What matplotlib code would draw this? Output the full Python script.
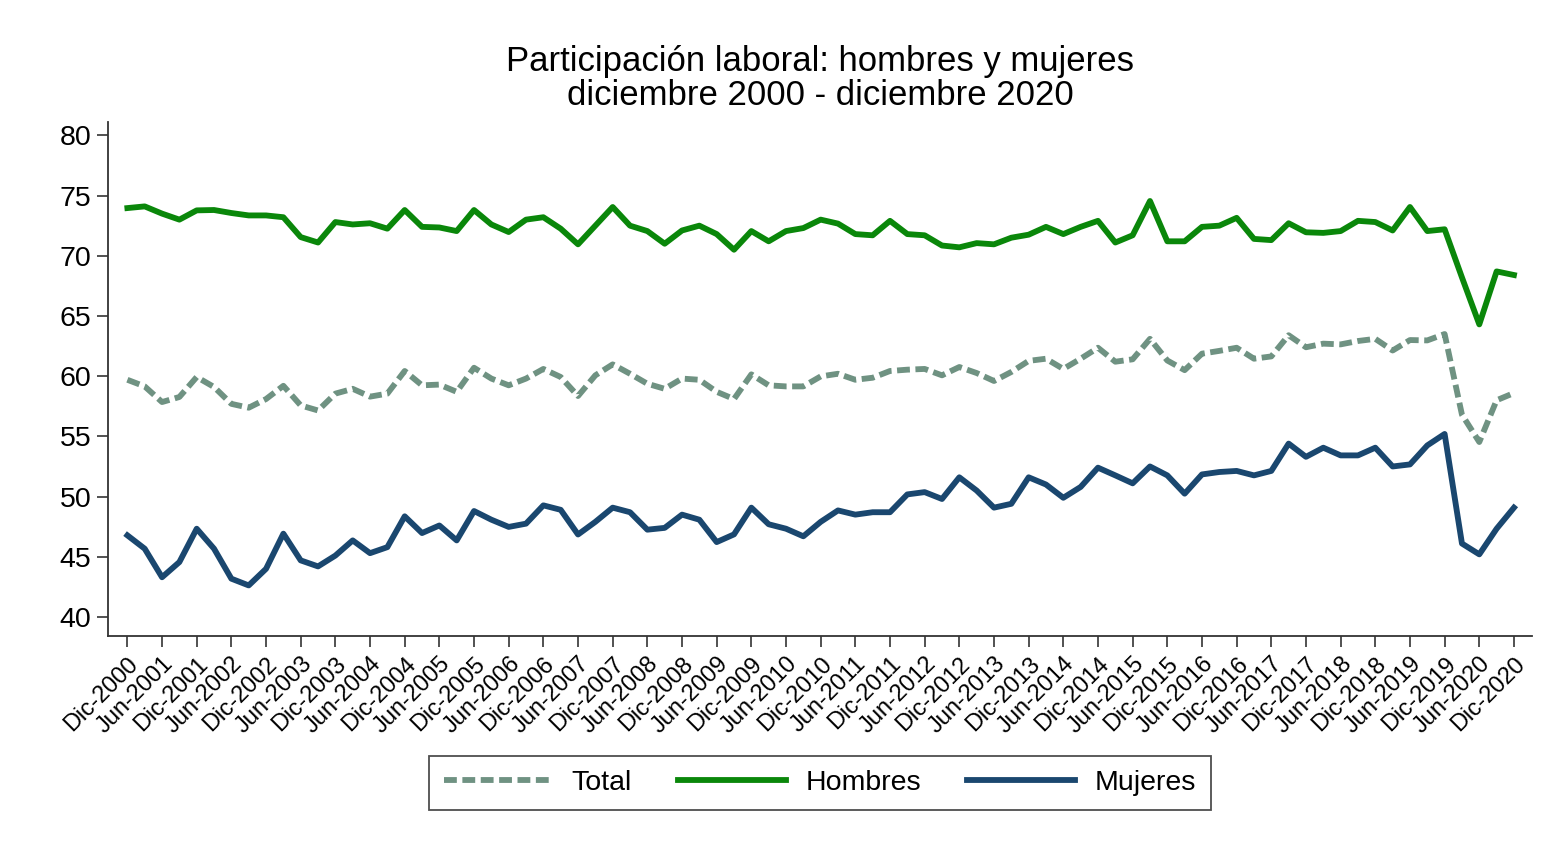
import matplotlib
matplotlib.use("Agg")
import matplotlib.pyplot as plt
import numpy as np

plt.rcParams['font.family'] = ['Liberation Sans', 'DejaVu Sans']

# Quarterly labels Dic-2000 .. Dic-2020 (81 quarters); tick labels every 2 quarters
years = list(range(2000, 2021))
tick_labels = []
for y in years:
    if y > 2000:
        tick_labels.append(f"Jun-{y}")
    tick_labels.append(f"Dic-{y}")

total = [59.7, 59.15, 57.85, 58.27, 59.93, 59.1, 57.7, 57.38, 58.1, 59.2,
         57.57, 57.15, 58.55, 58.95, 58.3, 58.55, 60.43, 59.24, 59.3, 58.7,
         60.7, 59.8, 59.24, 59.8, 60.6, 59.93, 58.35, 60.07, 60.98, 60.2,
         59.37, 58.95, 59.8, 59.7, 58.7, 58.1, 60.15, 59.24, 59.15, 59.15,
         59.98, 60.2, 59.7, 59.87, 60.43, 60.54, 60.6, 60.07, 60.76, 60.26,
         59.6, 60.35, 61.27, 61.45, 60.6, 61.45, 62.36, 61.2, 61.4, 63.1,
         61.3, 60.5, 61.87, 62.1, 62.36, 61.45, 61.64, 63.4, 62.4, 62.7,
         62.64, 62.92, 63.1, 62.13, 63.0, 62.97, 63.5, 56.8, 54.53, 58.0,
         58.6]

hombres = [73.96, 74.1, 73.5, 73.0, 73.77, 73.8, 73.55, 73.35, 73.35, 73.2,
           71.55, 71.1, 72.8, 72.6, 72.7, 72.25, 73.8, 72.4, 72.35, 72.05,
           73.8, 72.6, 71.97, 73.0, 73.2, 72.25, 70.95, 72.5, 74.05, 72.5,
           72.05, 71.0, 72.1, 72.5, 71.8, 70.5, 72.05, 71.2, 72.05, 72.3,
           73.0, 72.67, 71.8, 71.7, 72.9, 71.8, 71.7, 70.85, 70.7, 71.05,
           70.95, 71.5, 71.75, 72.4, 71.8, 72.4, 72.9, 71.1, 71.7, 74.55,
           71.2, 71.2, 72.4, 72.5, 73.15, 71.4, 71.3, 72.7, 71.95, 71.9,
           72.05, 72.9, 72.8, 72.1, 74.05, 72.05, 72.2, 68.2, 64.3, 68.7,
           68.4]

mujeres = [46.78, 45.67, 43.3, 44.56, 47.33, 45.67, 43.18, 42.62, 44.0, 46.92,
           44.7, 44.2, 45.1, 46.36, 45.3, 45.8, 48.36, 46.97, 47.6, 46.36,
           48.8, 48.08, 47.48, 47.75, 49.27, 48.9, 46.85, 47.9, 49.08, 48.7,
           47.25, 47.4, 48.5, 48.08, 46.22, 46.86, 49.08, 47.7, 47.33, 46.7,
           47.9, 48.85, 48.5, 48.7, 48.7, 50.18, 50.37, 49.8, 51.6, 50.5,
           49.08, 49.4, 51.6, 51.0, 49.9, 50.8, 52.4, 51.76, 51.1, 52.5,
           51.76, 50.24, 51.84, 52.04, 52.13, 51.76, 52.13, 54.4, 53.3, 54.06,
           53.42, 53.42, 54.06, 52.5, 52.67, 54.25, 55.2, 46.1, 45.2, 47.33,
           49.08]

c_total = '#6f9282'
c_hombres = '#0a870a'
c_mujeres = '#1a476f'

fig = plt.figure(figsize=(15.58, 8.48), dpi=100)
ax = fig.add_axes([0.0693, 0.25, 0.9140, 0.606])

x = np.arange(len(total))
lw = 4.2
ax.plot(x, total, color=c_total, lw=lw, dashes=(2.2, 0.95), dash_capstyle='butt', label='Total')
ax.plot(x, hombres, color=c_hombres, lw=lw, solid_joinstyle='round', label='Hombres')
ax.plot(x, mujeres, color=c_mujeres, lw=lw, solid_joinstyle='round', label='Mujeres')

ax.set_xlim(-1.12, 81.04)
ax.set_ylim(38.42, 81.1)
ax.set_yticks(range(40, 81, 5))
ax.set_yticklabels([str(v) for v in range(40, 81, 5)], fontsize=20.5)
ax.set_xticks(x[::2])
ax.set_xticklabels(tick_labels, rotation=45, ha='right', va='top', rotation_mode='anchor', fontsize=17)

for s in ['top', 'right']:
    ax.spines[s].set_visible(False)
for s in ['left', 'bottom']:
    ax.spines[s].set_color('#333333')
    ax.spines[s].set_linewidth(1.3)
ax.tick_params(axis='both', length=8, width=1.2, color='#333333', pad=4)

ax.set_title('Participación laboral: hombres y mujeres\ndiciembre 2000 - diciembre 2020',
             fontsize=25, pad=12, linespacing=1.05)

leg = ax.legend(loc='upper center', bbox_to_anchor=(0.5, -0.205), ncol=3, fontsize=20.5,
                frameon=True, fancybox=False, edgecolor='#222222', handlelength=3.8,
                handletextpad=0.7, columnspacing=1.6, borderpad=0.5)
leg.get_frame().set_linewidth(1.3)

fig.savefig('out.png', dpi=100, facecolor='white')
